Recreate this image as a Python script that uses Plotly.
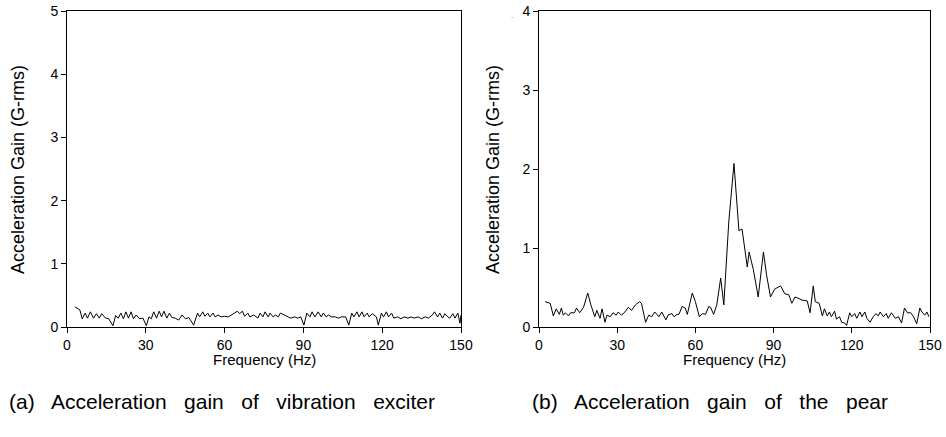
import plotly.graph_objects as go

# ---- data: (a) vibration exciter ----
freq_a = [3.0, 4.9, 5.8, 6.9, 7.8, 8.9, 10.1, 11.2, 12.3, 13.2, 14.7, 15.9, 17.5, 18.5, 19.5, 20.5,
          21.5, 22.4, 23.4, 24.4, 25.3, 26.3, 27.6, 28.9, 30.2, 31.2, 32.1, 33.0, 34.1, 35.1, 36.0,
          36.9, 38.0, 39.0, 39.9, 41.2, 42.5, 43.8, 45.1, 46.4, 48.2, 49.7, 50.5, 51.7, 52.5, 53.6,
          54.4, 55.6, 56.4, 57.5, 58.7, 59.9, 61.4, 62.6, 63.7, 64.9, 65.7, 66.8, 67.6, 68.8, 69.6,
          71.1, 72.7, 73.5, 74.6, 75.4, 76.6, 77.3, 78.5, 79.3, 80.5, 81.2, 82.8, 83.9, 85.1, 86.7,
          87.8, 89.0, 90.2, 91.3, 92.5, 93.3, 94.4, 95.6, 96.8, 97.6, 98.7, 99.5, 100.7, 102.2,
          103.4, 104.5, 106.1, 107.3, 108.4, 109.2, 110.4, 111.2, 112.3, 113.1, 114.3, 115.0,
          116.2, 117.8, 118.5, 119.7, 120.5, 121.6, 122.4, 123.6, 124.4, 125.9, 127.1, 128.3,
          129.8, 131.0, 132.1, 133.7, 134.9, 136.4, 137.6, 139.1, 139.9, 141.1, 141.9, 143.0,
          143.8, 145.0, 145.7, 146.9, 147.7, 148.8, 149.6, 150.0]
gain_a = [0.32, 0.27, 0.13, 0.22, 0.14, 0.24, 0.14, 0.21, 0.14, 0.21, 0.14, 0.13, 0.02, 0.18, 0.14, 0.22,
          0.13, 0.24, 0.14, 0.24, 0.13, 0.19, 0.13, 0.14, 0.02, 0.16, 0.13, 0.24, 0.14, 0.25, 0.16,
          0.25, 0.14, 0.22, 0.15, 0.14, 0.11, 0.19, 0.13, 0.15, 0.03, 0.22, 0.16, 0.24, 0.17, 0.22,
          0.16, 0.22, 0.16, 0.19, 0.16, 0.17, 0.16, 0.19, 0.21, 0.25, 0.21, 0.25, 0.17, 0.22, 0.16,
          0.19, 0.14, 0.22, 0.16, 0.24, 0.16, 0.22, 0.16, 0.19, 0.16, 0.22, 0.19, 0.16, 0.14, 0.16,
          0.14, 0.16, 0.03, 0.22, 0.16, 0.24, 0.16, 0.24, 0.16, 0.22, 0.16, 0.19, 0.16, 0.16,
          0.14, 0.16, 0.16, 0.03, 0.22, 0.16, 0.24, 0.16, 0.24, 0.16, 0.22, 0.16,
          0.21, 0.16, 0.03, 0.22, 0.16, 0.24, 0.16, 0.22, 0.14, 0.16, 0.13, 0.16,
          0.14, 0.16, 0.14, 0.16, 0.13, 0.16, 0.14, 0.19, 0.24, 0.16, 0.22, 0.14,
          0.21, 0.16, 0.14, 0.21, 0.14, 0.22, 0.06, 0.19]

# ---- data: (b) pear ----
freq_b = [2.3, 4.3, 5.5, 6.6, 7.8, 8.6, 9.3, 10.1, 11.3, 12.1, 13.6, 14.4, 15.6, 17.1, 18.7, 19.9,
          21.4, 22.2, 23.4, 24.2, 25.3, 26.1, 27.3, 28.4, 29.6, 30.4, 31.6, 32.7, 34.3, 35.5, 37.0,
          38.6, 39.3, 40.9, 42.1, 43.2, 44.4, 46.0, 47.1, 48.7, 49.5, 51.0, 51.8, 53.0, 53.7, 54.9,
          56.1, 56.9, 58.8, 60.0, 61.5, 62.7, 63.9, 65.1, 65.8, 67.0, 68.2, 69.7, 70.9, 72.1, 72.8,
          74.8, 76.7, 77.9, 79.9, 80.6, 82.2, 84.1, 86.1, 87.3, 88.8, 90.4, 92.7, 94.3, 95.8, 97.0,
          98.2, 99.7, 100.9, 102.9, 104.0, 105.2, 106.0, 107.5, 108.7, 109.5, 110.6, 111.4, 112.2,
          113.4, 114.1, 115.3, 116.1, 117.3, 118.0, 119.2, 120.0, 121.1, 121.9, 123.1, 123.9,
          125.0, 125.8, 127.0, 128.2, 129.3, 130.1, 130.9, 132.1, 133.2, 134.0, 135.2, 136.7,
          137.9, 139.1, 140.2, 141.4, 142.6, 143.7, 144.9, 146.1, 146.9, 148.0, 148.8, 149.6]
gain_b = [0.32, 0.30, 0.14, 0.23, 0.16, 0.24, 0.15, 0.18, 0.14, 0.18, 0.18, 0.24, 0.18, 0.25, 0.43, 0.28,
          0.13, 0.21, 0.11, 0.23, 0.06, 0.15, 0.13, 0.18, 0.15, 0.19, 0.15, 0.18, 0.25, 0.21, 0.28,
          0.32, 0.30, 0.06, 0.15, 0.13, 0.19, 0.13, 0.19, 0.09, 0.15, 0.17, 0.13, 0.16, 0.16, 0.26,
          0.24, 0.16, 0.43, 0.32, 0.13, 0.17, 0.16, 0.26, 0.25, 0.16, 0.28, 0.62, 0.28, 1.01, 1.33,
          2.07, 1.22, 1.24, 0.76, 0.95, 0.73, 0.38, 0.95, 0.66, 0.38, 0.48, 0.52, 0.42, 0.41, 0.30,
          0.38, 0.36, 0.34, 0.33, 0.18, 0.52, 0.32, 0.30, 0.14, 0.23, 0.14, 0.19, 0.13,
          0.20, 0.10, 0.13, 0.06, 0.05, 0.02, 0.18, 0.13, 0.17, 0.11, 0.19, 0.13,
          0.19, 0.11, 0.06, 0.13, 0.17, 0.14, 0.19, 0.13, 0.17, 0.11, 0.18, 0.11,
          0.13, 0.05, 0.24, 0.18, 0.18, 0.13, 0.04, 0.24, 0.19, 0.15, 0.19, 0.13]

x_ticks = [0, 30, 60, 90, 120, 150]
x_title = "Frequency (Hz)"
y_title = "Acceleration Gain (G-rms)"
GAP = "&nbsp;&nbsp; "
caption_a = GAP.join(["(a)", "Acceleration", "gain", "of", "vibration", "exciter"])
caption_b = GAP.join(["(b)", "Acceleration", "gain", "of", "the", "pear"])

W, H = 946, 437
FONT = "Liberation Sans, Arial, sans-serif"


def px(x):
    return x / W


def py(y):
    return 1 - y / H


fig = go.Figure()
fig.add_trace(go.Scatter(x=freq_a, y=gain_a, mode="lines", line=dict(color="black", width=1),
                         xaxis="x", yaxis="y", showlegend=False))
fig.add_trace(go.Scatter(x=freq_b, y=gain_b, mode="lines", line=dict(color="black", width=1),
                         xaxis="x2", yaxis="y2", showlegend=False))

ydom = [py(327), py(11)]
axis_common = dict(showgrid=False, zeroline=False, showline=True, linecolor="black", linewidth=1,
                   mirror=True, ticks="outside", ticklen=5, tickwidth=1, tickcolor="black",
                   automargin=False, ticklabeloverflow="allow",
                   tickfont=dict(family=FONT, size=14, color="black"))

fig.update_layout(
    width=W, height=H,
    margin=dict(l=0, r=0, t=0, b=0, autoexpand=False),
    paper_bgcolor="white", plot_bgcolor="white",
    font=dict(family=FONT, color="black"),
    xaxis=dict(domain=[px(67), px(461)], range=[0, 150], tickvals=x_ticks, anchor="y", **axis_common),
    yaxis=dict(domain=ydom, range=[0, 5], dtick=1, anchor="x", **axis_common),
    xaxis2=dict(domain=[px(539), px(930)], range=[0, 150], tickvals=x_ticks, anchor="y2", **axis_common),
    yaxis2=dict(domain=ydom, range=[0, 4], dtick=1, anchor="x2", **axis_common),
)

ann = []
for cx, ty in [((67 + 461) / 2, 18), ((539 + 930) / 2, 493)]:
    ann.append(dict(text=x_title, x=px(cx), y=py(359), xref="paper", yref="paper",
                    showarrow=False, xanchor="center", yanchor="middle",
                    font=dict(family=FONT, size=15, color="black")))
    ann.append(dict(text=y_title, x=px(ty), y=py(170), xref="paper", yref="paper",
                    showarrow=False, xanchor="center", yanchor="middle", textangle=-90,
                    font=dict(family=FONT, size=18, color="black")))
ann.append(dict(text=caption_a, x=px(222), y=py(401), xref="paper", yref="paper",
                showarrow=False, xanchor="center", yanchor="middle",
                font=dict(family=FONT, size=21, color="black")))
ann.append(dict(text=caption_b, x=px(710), y=py(401), xref="paper", yref="paper",
                showarrow=False, xanchor="center", yanchor="middle",
                font=dict(family=FONT, size=21, color="black")))
ann.append(dict(text=".", x=px(512), y=py(16), xref="paper", yref="paper",
                showarrow=False, xanchor="center", yanchor="middle",
                font=dict(family=FONT, size=8, color="#666666")))
fig.update_layout(annotations=ann)

# remove the default 8px page margin so the figure fills the window exactly
fig.write_html("out.html",
               config={"displayModeBar": False},
               post_script="document.body.style.margin='0';document.body.style.overflow='hidden';")
